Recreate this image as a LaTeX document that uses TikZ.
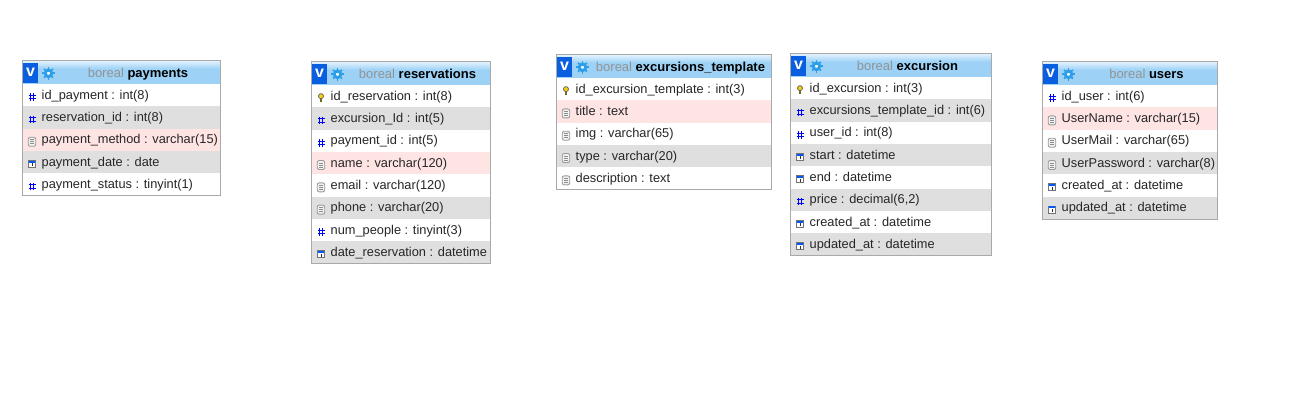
\documentclass[tikz,border=0pt]{standalone}
\usepackage{fontspec}
\setmainfont{Liberation Sans}
\definecolor{rowgrey}{HTML}{DFDFDF}
\definecolor{rowpink}{HTML}{FFE4E4}
\definecolor{headtop}{HTML}{E4F3FF}
\definecolor{headbot}{HTML}{9DD2F6}
\definecolor{boxline}{HTML}{A9A9A9}
\definecolor{vblue}{HTML}{0A5FE0}
\definecolor{gearblue}{HTML}{2C9FE8}
\pgfdeclareverticalshading{headgrad}{100bp}{color(0bp)=(headbot); color(58bp)=(headbot); color(75bp)=(headtop); color(100bp)=(headtop)}
\newcommand{\taby}{0}
\newcommand{\tabx}{0}
\newcommand{\tabw}{0}
\newcommand{\tabname}{}
\newcommand{\rown}{0}
\newcommand{\rowh}{22.3}
% table head, args: name, x, y, width, height, title
\newcommand{\tablehead}[6]{%
    \xdef\tabname{#1}\xdef\tabx{#2}\xdef\taby{#3}\xdef\tabw{#4}\xdef\rown{0}%
    \node[headcell, minimum width=#4pt, minimum height=#5pt] (#1) at (#2, #3) {};%
    \node[vcell] (#1-v) at (#2, #3+2) {v};%
    \foreach \a in {0,45,...,315} {\draw[gearteeth] (#2+26, #3+12.8) ++(\a:4.5) -- ++(\a:1.8);}%
    \node[gear] (#1-gear) at (#2+26, #3+12.8) {};%
    \node[headtext] (#1-title) at (#2+#4/2+16.5, #3+16.6) {\textcolor{gray!85}{boreal} \textbf{#6}};%
    \pgfmathsetmacro{\newy}{#3+#5}%
    \xdef\taby{\newy}%
}
% one row, args: fill, icon macro, text
\newcommand{\tablerow}[3]{%
    \pgfmathtruncatemacro{\newn}{\rown+1}%
    \xdef\rown{\newn}%
    \node[rowcell, fill=#1, minimum width=\tabw pt, minimum height=\rowh pt] (\tabname-\rown) at (\tabx, \taby) {};%
    \node[rowtext] (\tabname-\rown-text) at (\tabx+19, \taby+15.4) {#3};%
    #2{\tabx+9.5}{\taby+\rowh/2+2}{\tabname-\rown-icon}%
    \pgfmathsetmacro{\newy}{\taby+\rowh}%
    \xdef\taby{\newy}%
}
% field icons
\newcommand{\inum}[3]{%
    \coordinate (#3) at (#1, #2);%
    \draw[numline] (#1-1.8, #2-3.8) -- (#1-1.8, #2+3.8) (#1+1.8, #2-3.8) -- (#1+1.8, #2+3.8)
        (#1-3.5, #2-1.7) -- (#1+3.5, #2-1.7) (#1-3.5, #2+1.7) -- (#1+3.5, #2+1.7);%
}
\newcommand{\ikey}[3]{%
    \draw[keyline] (#1, #2-1) -- (#1, #2+3.5);%
    \node[keyicon] (#3) at (#1, #2-2) {};%
}
\newcommand{\itxt}[3]{%
    \node[txticon] (#3) at (#1, #2) {};%
    \draw[txtline] (#1-2, #2-2) -- (#1+2, #2-2) (#1-2, #2) -- (#1+2, #2) (#1-2, #2+2) -- (#1+2, #2+2);%
}
\newcommand{\idate}[3]{%
    \node[dateicon] (#3) at (#1, #2) {};%
    \fill[blue!65!cyan] (#1-3.2, #2-3.2) rectangle (#1+3.2, #2-1.4);%
    \draw[line width=0.8pt, black!80] (#1, #2-0.6) -- (#1, #2+2.4);%
}
\tikzset{
    headcell/.style={anchor=north west, inner sep=0pt, shading=headgrad},
    vcell/.style={fill=vblue, text=white, anchor=north west, inner sep=0pt, minimum width=15.5pt, minimum height=20pt, font=\fontsize{16}{18}\selectfont\bfseries},
    gear/.style={circle, draw=gearblue, line width=3pt, fill=white, minimum size=6.5pt, inner sep=0pt},
    gearteeth/.style={draw=gearblue, line width=1.6pt},
    headtext/.style={anchor=base, inner sep=0pt, font=\fontsize{13}{15}\selectfont, text=black},
    rowcell/.style={anchor=north west, inner sep=0pt},
    rowtext/.style={anchor=base west, inner sep=0pt, font=\fontsize{12.8}{15}\selectfont, text=black!85},
    numline/.style={draw=blue, line width=1.05pt},
    keyicon/.style={circle, draw=black!60, fill=yellow!70!orange, line width=0.8pt, minimum size=5pt, inner sep=0pt},
    keyline/.style={draw=olive!75!black, line width=2pt},
    txticon/.style={draw=black!40, fill=black!5, rounded corners=2pt, line width=0.9pt, minimum width=7.5pt, minimum height=9pt, inner sep=0pt},
    txtline/.style={draw=black!45, line width=0.6pt},
    dateicon/.style={draw=black!55, fill=white, line width=0.7pt, minimum size=7pt, inner sep=0pt},
    tabframe/.style={draw=boxline, line width=1pt},
}
\begin{document}
\begin{tikzpicture}[x=1pt, y=-1pt]
    \useasboundingbox (0, 0) rectangle (1312, 414);

    % --- payments ---
    \tablehead{payments}{22.5}{60.5}{198}{23.5}{payments}
    \tablerow{white}{\inum}{id\_payment : int(8)}
    \tablerow{rowgrey}{\inum}{reservation\_id : int(8)}
    \tablerow{rowpink}{\itxt}{payment\_method : varchar(15)}
    \tablerow{rowgrey}{\idate}{payment\_date : date}
    \tablerow{white}{\inum}{payment\_status : tinyint(1)}
    \draw[tabframe] (payments.north west) rectangle (payments-5.south east);

    % --- reservations ---
    \tablehead{reservations}{311.5}{61.5}{179}{23.5}{reservations}
    \tablerow{white}{\ikey}{id\_reservation : int(8)}
    \tablerow{rowgrey}{\inum}{excursion\_Id : int(5)}
    \tablerow{white}{\inum}{payment\_id : int(5)}
    \tablerow{rowpink}{\itxt}{name : varchar(120)}
    \tablerow{white}{\itxt}{email : varchar(120)}
    \tablerow{rowgrey}{\itxt}{phone : varchar(20)}
    \tablerow{white}{\inum}{num\_people : tinyint(3)}
    \tablerow{rowgrey}{\idate}{date\_reservation : datetime}
    \draw[tabframe] (reservations.north west) rectangle (reservations-8.south east);

    % --- excursions_template ---
    \tablehead{template}{556.5}{54.5}{215}{23.5}{excursions\_template}
    \tablerow{white}{\ikey}{id\_excursion\_template : int(3)}
    \tablerow{rowpink}{\itxt}{title : text}
    \tablerow{white}{\itxt}{img : varchar(65)}
    \tablerow{rowgrey}{\itxt}{type : varchar(20)}
    \tablerow{white}{\itxt}{description : text}
    \draw[tabframe] (template.north west) rectangle (template-5.south east);

    % --- excursion ---
    \tablehead{excursion}{790.5}{53.5}{201}{23.5}{excursion}
    \tablerow{white}{\ikey}{id\_excursion : int(3)}
    \tablerow{rowgrey}{\inum}{excursions\_template\_id : int(6)}
    \tablerow{white}{\inum}{user\_id : int(8)}
    \tablerow{rowgrey}{\idate}{start : datetime}
    \tablerow{white}{\idate}{end : datetime}
    \tablerow{rowgrey}{\inum}{price : decimal(6,2)}
    \tablerow{white}{\idate}{created\_at : datetime}
    \tablerow{rowgrey}{\idate}{updated\_at : datetime}
    \draw[tabframe] (excursion.north west) rectangle (excursion-8.south east);

    % --- users ---
    \tablehead{users}{1042.5}{61.5}{175}{23.5}{users}
    \tablerow{white}{\inum}{id\_user : int(6)}
    \tablerow{rowpink}{\itxt}{UserName : varchar(15)}
    \tablerow{white}{\itxt}{UserMail : varchar(65)}
    \tablerow{rowgrey}{\itxt}{UserPassword : varchar(8)}
    \tablerow{white}{\idate}{created\_at : datetime}
    \tablerow{rowgrey}{\idate}{updated\_at : datetime}
    \draw[tabframe] (users.north west) rectangle (users-6.south east);

\end{tikzpicture}
\end{document}
